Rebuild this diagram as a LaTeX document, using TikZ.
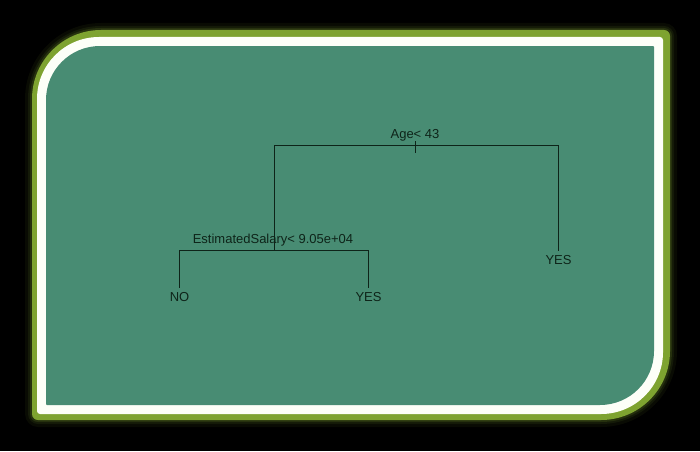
\documentclass[tikz,border=0pt]{standalone}
\usepackage{fontspec}
\setmainfont{Liberation Sans}
\usetikzlibrary{positioning}
\definecolor{panelfill}{HTML}{488C73}
\definecolor{rimgreen}{HTML}{7EA330}
\definecolor{rimwhite}{HTML}{FDFFF8}
\definecolor{inkdark}{HTML}{0E2419}
\tikzset{
    x=1pt,
    y=1pt,
    panel/.style n args={6}{
        insert path={(#1,#2+#6) -- (#1,#4-#5)
            arc[start angle=180,end angle=90,radius=#5] -- (#3-#6,#4)
            arc[start angle=90,end angle=0,radius=#6] -- (#3,#2+#5)
            arc[start angle=0,end angle=-90,radius=#5] -- (#1+#6,#2)
            arc[start angle=-90,end angle=-180,radius=#6] -- cycle}
    },
    split/.style = {
        font=\fontsize{13}{13}\selectfont,
        text=inkdark,
        inner sep=0pt
    },
    leaf/.style = {
        font=\fontsize{13}{13}\selectfont,
        text=inkdark,
        inner sep=0pt,
        outer sep=5pt
    },
    branch/.style = {
        draw=inkdark,
        line width=1pt
    },
}

\begin{document}
\begin{tikzpicture}
            \useasboundingbox (0,0) rectangle (700,451);
            \fill[black] (0,0) rectangle (700,451);

            % frame: glow, green rim, white rim, panel
            \fill[black!93!rimgreen, panel={25}{24}{677}{428}{76}{13}];
            \fill[black!84!rimgreen, panel={28}{27}{674}{425}{73}{10}];
            \fill[black!70!rimgreen, panel={30}{29}{672}{423}{71}{8}];
            \fill[rimgreen, panel={32}{31}{670}{421}{69}{6}];
            \fill[rimwhite, panel={37}{37}{663}{414}{62}{3}];
            \fill[panelfill, panel={46}{46}{654}{405}{54}{1}];

            % tree
            \node[split] (age) at (415,316) {Age< 43};
            \node[split] (salary) at (273,211) {EstimatedSalary< 9.05e+04};
            \coordinate (root) at (415,306);
            \coordinate (node2) at (274,201);
            \node[leaf] (yesright) at (558.5,190.5) {YES};
            \node[leaf] (noleft) at (179.5,153.5) {NO};
            \node[leaf] (yesmid) at (368.5,153.5) {YES};

            \path[branch] (root) ++(0,4) -- ++(0,-12);
            \path[branch] (root) -| (node2);
            \path[branch] (root) -| (yesright);
            \path[branch] (node2) -| (noleft);
            \path[branch] (node2) -| (yesmid);
        \end{tikzpicture}
\end{document}
